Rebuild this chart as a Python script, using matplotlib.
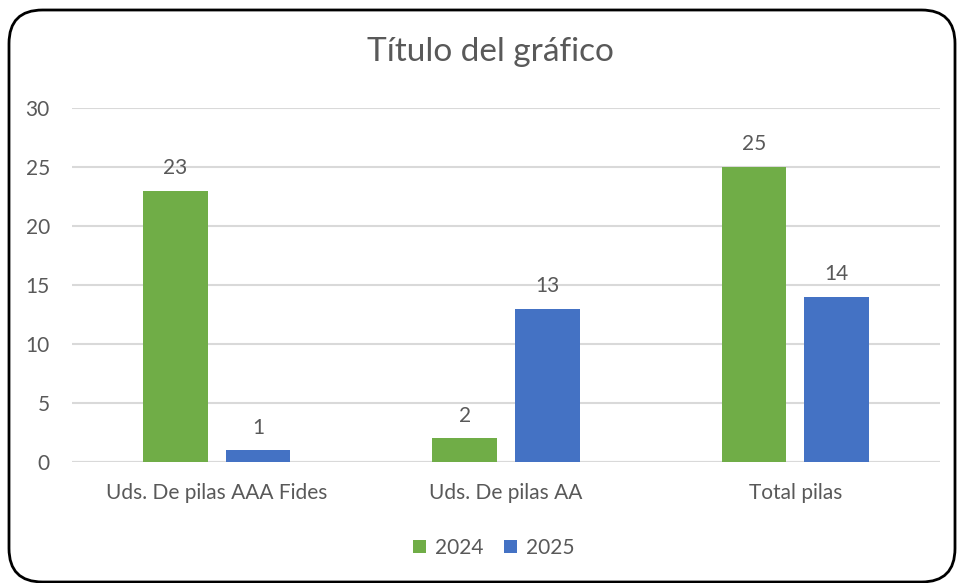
import matplotlib
matplotlib.use("Agg")
import matplotlib.pyplot as plt
import numpy as np
from matplotlib.patches import FancyBboxPatch

categories = ["Uds. De pilas AAA Fides", "Uds. De pilas AA", "Total pilas"]
values_2024 = [23, 2, 25]
values_2025 = [1, 13, 14]
series_names = ["2024", "2025"]
y_ticks = [0, 5, 10, 15, 20, 25, 30]

GREEN = "#70AD47"
BLUE = "#4472C4"
TEXT = "#595959"
GRID = "#D9D9D9"

plt.rcParams["font.family"] = ["Lato", "DejaVu Sans"]

fig = plt.figure(figsize=(9.58, 5.83), dpi=100)
ax = fig.add_axes([72 / 958, 1 - 462 / 583, 868 / 958, 354 / 583])

x = np.arange(len(categories))
width = 0.224
offset = 0.143
bars_a = ax.bar(x - offset, values_2024, width, color=GREEN, label=series_names[0], zorder=3)
bars_b = ax.bar(x + offset, values_2025, width, color=BLUE, label=series_names[1], zorder=3)

for bars in (bars_a, bars_b):
    ax.bar_label(bars, padding=9, color=TEXT, fontsize=15)

ax.set_xlim(-0.5, 2.5)
ax.set_ylim(0, 30)
ax.set_yticks(y_ticks)
ax.set_xticks(x)
ax.set_xticklabels(categories)
ax.yaxis.grid(True, color=GRID, linewidth=1.5, zorder=0)
ax.tick_params(axis="both", length=0, colors=TEXT, labelsize=15)
ax.tick_params(axis="x", pad=15)
ax.tick_params(axis="y", pad=16)
for spine in ax.spines.values():
    spine.set_visible(False)
ax.axhline(0, color=GRID, linewidth=1.5, zorder=2)

fig.text(490 / 958, 1 - 52 / 583, "Título del gráfico", ha="center", va="center",
         fontsize=24, color=TEXT)

fig.legend(loc="center", bbox_to_anchor=(494 / 958, 1 - 548 / 583), ncol=2, frameon=False,
           fontsize=15, labelcolor=TEXT, handlelength=0.6, handleheight=0.6,
           handletextpad=0.45, columnspacing=1.0)

border = FancyBboxPatch((9 / 958, 1 / 583), 946 / 958, 572 / 583,
                        boxstyle="round,pad=0,rounding_size=0.035",
                        transform=fig.transFigure, fill=False, edgecolor="black",
                        linewidth=2, mutation_aspect=958 / 583)
fig.patches.append(border)

fig.savefig("out.png", dpi=100)
